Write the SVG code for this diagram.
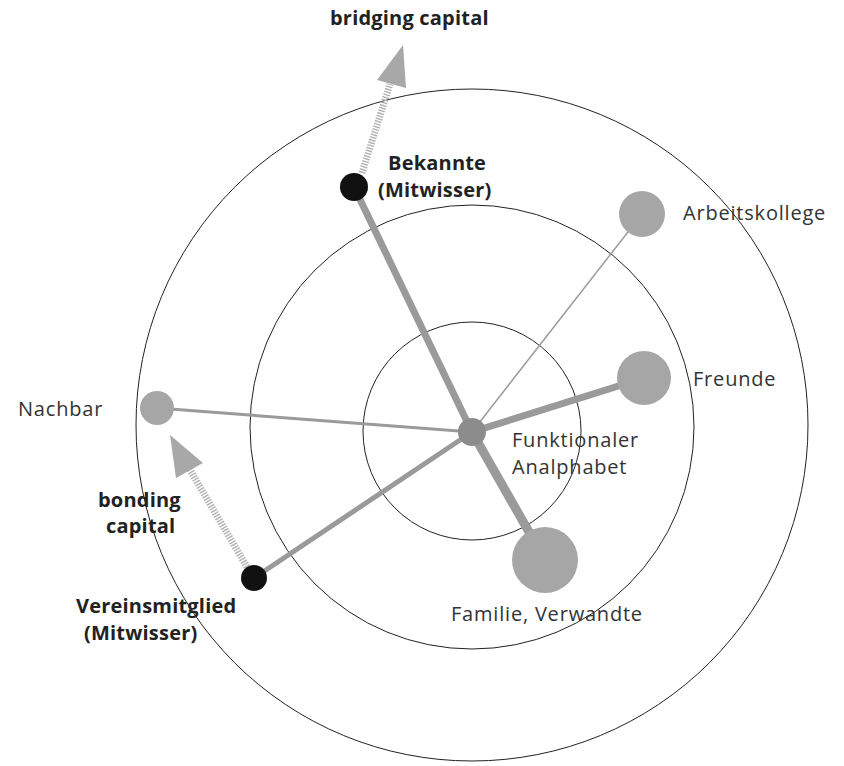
<svg xmlns="http://www.w3.org/2000/svg" width="844" height="766" viewBox="0 0 844 766">
<style>
.ring{fill:none;stroke:#222;stroke-width:1}
.edge{stroke:#9a9a9a;stroke-linecap:butt}
.hatch{stroke:#b0b0b0;stroke-width:7;stroke-dasharray:1.4 1.4}
.head{fill:#a8a8a8}
.gnode{fill:#a6a6a6}
.bnode{fill:#111}
.t{font-family:"Open Sans","Noto Sans",sans-serif;font-size:20px;fill:#333;letter-spacing:0.8px}
.b{font-weight:bold;fill:#222;letter-spacing:0.2px}
</style>
<rect width="844" height="766" fill="#fff"/>
<g id="rings">
<circle class="ring" cx="472" cy="425" r="336"/>
<circle class="ring" cx="472" cy="427" r="222"/>
<circle class="ring" cx="472" cy="431" r="109"/>
</g>
<g id="connectors">
<line class="edge" x1="472" y1="432" x2="354" y2="187" stroke-width="7"/>
<line class="edge" x1="472" y1="432" x2="642" y2="214" stroke-width="1.5"/>
<line class="edge" x1="472" y1="432" x2="644" y2="378" stroke-width="7"/>
<line class="edge" x1="472" y1="432" x2="157" y2="408" stroke-width="3"/>
<line class="edge" x1="472" y1="432" x2="545" y2="560" stroke-width="9"/>
<line class="edge" x1="472" y1="432" x2="254" y2="578" stroke-width="5"/>
<line class="hatch" x1="362" y1="173" x2="390" y2="84"/>
<polygon class="head" points="403,45 377,80 406,88"/>
<line class="hatch" x1="247" y1="567" x2="190" y2="470"/>
<polygon class="head" points="170,435 176,478 203,463"/>
</g>
<g id="n-center"><circle cx="472" cy="432" r="14" fill="#8c8c8c"/>
<text class="t" x="512" y="447">Funktionaler</text><text class="t" x="512" y="474">Analphabet</text></g>
<g id="n-bekannte"><circle class="bnode" cx="354" cy="187" r="14"/>
<text class="t b" x="388" y="170">Bekannte</text><text class="t b" x="378" y="197">(Mitwisser)</text></g>
<g id="n-arbeitskollege"><circle class="gnode" cx="642" cy="214" r="23"/>
<text class="t" x="683" y="220">Arbeitskollege</text></g>
<g id="n-freunde"><circle class="gnode" cx="644" cy="378" r="27"/>
<text class="t" x="693" y="386">Freunde</text></g>
<g id="n-nachbar"><circle class="gnode" cx="157" cy="408" r="17"/>
<text class="t" x="18" y="416">Nachbar</text></g>
<g id="n-familie"><circle class="gnode" cx="545" cy="560" r="33"/>
<text class="t" x="451" y="621">Familie, Verwandte</text></g>
<g id="n-verein"><circle class="bnode" cx="254" cy="578" r="13"/>
<text class="t b" x="76" y="613">Vereinsmitglied</text><text class="t b" x="84" y="640">(Mitwisser)</text></g>
<g id="labels">
<text class="t b" x="330" y="25">bridging capital</text>
<text class="t b" x="98" y="507">bonding</text>
<text class="t b" x="106" y="533">capital</text>
</g>
</svg>
